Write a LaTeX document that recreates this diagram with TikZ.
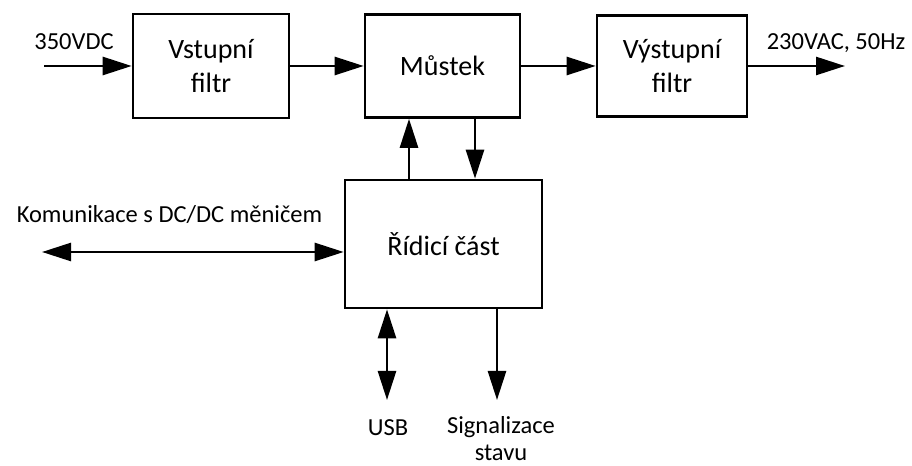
\documentclass[tikz,border=0pt]{standalone}
\usepackage{fontspec}
\setmainfont{Carlito}
\usetikzlibrary{arrows.meta}
\begin{document}
\begin{tikzpicture}[x=1bp,y=-1bp,
  blk/.style={draw, line width=2.6bp, align=center, inner sep=0pt,
    font=\fontsize{28bp}{34bp}\selectfont},
  lbl/.style={inner sep=0pt, align=center, anchor=base,
    font=\fontsize{24.5bp}{26.5bp}\selectfont},
  conn/.style={line width=2.6bp, -{Triangle[length=29bp,width=18bp]}},
  dconn/.style={line width=2.6bp, {Triangle[length=29bp,width=18bp]}-{Triangle[length=29bp,width=18bp]}}]
\useasboundingbox (0,0) rectangle (912,466);
% blocks
\node[blk, minimum width=156bp, minimum height=104bp] (vf) at (211,66) {Vstupní\\filtr};
\node[blk, minimum width=155bp, minimum height=103bp] (m) at (442.5,66) {Můstek};
\node[blk, minimum width=150bp, minimum height=101bp] (vyf) at (672,66) {Výstupní\\filtr};
\node[blk, minimum width=197bp, minimum height=128bp] (r) at (443.5,244) {Řídicí část};
% free ends
\coordinate (inS) at (44,66);
\coordinate (outE) at (845,66);
\coordinate (xu) at (409,0);
\coordinate (xd) at (475,0);
\coordinate (kl) at (42,252);
\coordinate (usbE) at (387,400);
\coordinate (sigE) at (497,400);
% connectors
\draw[conn] (inS) -- (vf.west);
\draw[conn] (vf.east) -- (m.west);
\draw[conn] (m.east) -- (vyf.west);
\draw[conn] (vyf.east) -- (outE);
\draw[conn] (r.north -| xu) -- (m.south -| xu);
\draw[conn] (m.south -| xd) -- (r.north -| xd);
\draw[dconn] (kl) -- (r.west |- kl);
\draw[dconn] (r.south -| usbE) -- (usbE);
\draw[conn] (r.south -| sigE) -- (sigE);
% labels
\node[lbl] (lin) at (74,50) {350VDC};
\node[lbl] (lout) at (836,50) {230VAC, 50Hz};
\node[lbl] (lkom) at (169.5,223) {Komunikace s DC/DC měničem};
\node[lbl] (lusb) at (388,435) {USB};
\node[lbl] (lsig) at (501,460) {Signalizace\\stavu};
\end{tikzpicture}
\end{document}
